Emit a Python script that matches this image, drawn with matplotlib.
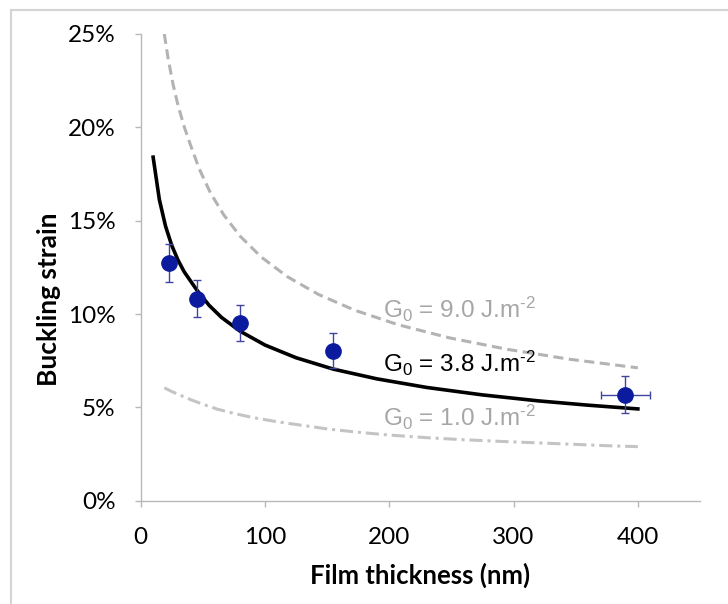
import matplotlib
matplotlib.use("Agg")
import matplotlib.pyplot as plt
from matplotlib.lines import Line2D
from matplotlib.ticker import FuncFormatter

# ---- data ----
thickness = [23, 45, 80, 155, 390]
strain = [12.73, 10.83, 9.53, 8.04, 5.67]
strain_err = [1.0, 0.98, 0.98, 0.94, 0.99]
thick_err = [0, 0, 0, 3, 19.6]

h_38 = [10, 15, 20, 25, 30, 35, 45, 55, 65, 80, 100, 125, 155, 190, 230, 275, 320, 360, 400]
e_38 = [18.4, 16.13, 14.7, 13.67, 12.89, 12.26, 11.3, 10.47, 9.82, 9.08, 8.34, 7.66, 7.05, 6.53, 6.07, 5.67, 5.35, 5.12, 4.92]

h_90 = [19, 22, 26, 30, 35, 39.6, 47, 56, 67, 80, 97, 118, 143, 172, 207, 248, 295, 345, 400]
e_90 = [25.0, 23.7, 22.31, 21.18, 20.03, 19.14, 17.79, 16.5, 15.29, 14.17, 13.05, 12.0, 11.05, 10.21, 9.43, 8.73, 8.11, 7.58, 7.12]

h_10 = [19, 25, 32, 40, 50, 62, 75, 90, 110, 130, 150, 175, 200, 230, 260, 290, 320, 350, 375, 400]
e_10 = [6.05, 5.85, 5.65, 5.42, 5.17, 4.9, 4.68, 4.46, 4.23, 4.04, 3.85, 3.67, 3.52, 3.38, 3.27, 3.18, 3.1, 3.02, 2.95, 2.9]

x_ticks = [0, 100, 200, 300, 400]
y_ticks = [0, 5, 10, 15, 20, 25]

labels = ["G$_0$ = 9.0 J.m$^{\u20102}$", "G$_0$ = 3.8 J.m$^{\u20102}$", "G$_0$ = 1.0 J.m$^{\u20102}$"]
label_y = [9.77, 6.91, 4.02]
label_colors = ["#a6a6a6", "#000000", "#a6a6a6"]

# ---- style ----
plt.rcParams["mathtext.fontset"] = "custom"
plt.rcParams["mathtext.rm"] = "Liberation Sans"
plt.rcParams["mathtext.it"] = "Liberation Sans:italic"

W, H = 728, 604
fig = plt.figure(figsize=(W / 100, H / 100), dpi=100)
ax = fig.add_axes([140.7 / W, 1 - 500.8 / H, (700 - 140.7) / W, (500.8 - 33.9) / H])

ax.plot(h_90, e_90, color="#b3b3b3", lw=2.2, linestyle=(0, (3.3, 1.8)))
ax.plot(h_10, e_10, color="#c4c4c4", lw=2.2, linestyle=(0, (4.3, 1.6, 1.0, 1.6)))
ax.plot(h_38, e_38, color="#000000", lw=2.6)

ax.errorbar(thickness, strain, yerr=strain_err, xerr=thick_err, fmt="o",
            color="#0c1a9e", ms=11, mec="#0c1a9e", ecolor="#3f45a0",
            elinewidth=1.0, capsize=3, capthick=1.0, zorder=5)

for t, yv, c in zip(labels, label_y, label_colors):
    ax.text(194.7, yv, t, color=c, fontsize=17.5, family="Liberation Sans",
            ha="left", va="baseline")

ax.set_xlim(0, 450)
ax.set_ylim(0, 25)
ax.set_xticks(x_ticks)
ax.set_yticks(y_ticks)
ax.yaxis.set_major_formatter(FuncFormatter(lambda v, p: f"{v:.0f}%"))

for s in ["top", "right"]:
    ax.spines[s].set_visible(False)
for s in ["left", "bottom"]:
    ax.spines[s].set_color("#b8b8b8")
    ax.spines[s].set_linewidth(1.0)

ax.tick_params(axis="both", colors="#b8b8b8", length=4, width=1.0,
               labelcolor="#000000", labelsize=17.5)
ax.tick_params(axis="x", pad=15)
ax.tick_params(axis="y", pad=14)
for lab in ax.get_xticklabels() + ax.get_yticklabels():
    lab.set_family("Lato")

fig.text(420 / W, 1 - 575 / H, "Film thickness (nm)", ha="center", va="center",
         fontsize=18.5, fontweight="bold", family="Lato")
fig.text(48.7 / W, 1 - 299 / H, "Buckling strain", ha="center", va="center",
         rotation=90, fontsize=19, fontweight="bold", family="Lato")

# light frame (top and left edges)
fig.add_artist(Line2D([11 / W, 1], [1 - 10 / H, 1 - 10 / H], transform=fig.transFigure,
                      color="#d4d4d4", lw=1.5))
fig.add_artist(Line2D([11 / W, 11 / W], [0, 1 - 10 / H], transform=fig.transFigure,
                      color="#d4d4d4", lw=1.5))

fig.savefig("out.png", dpi=100)
